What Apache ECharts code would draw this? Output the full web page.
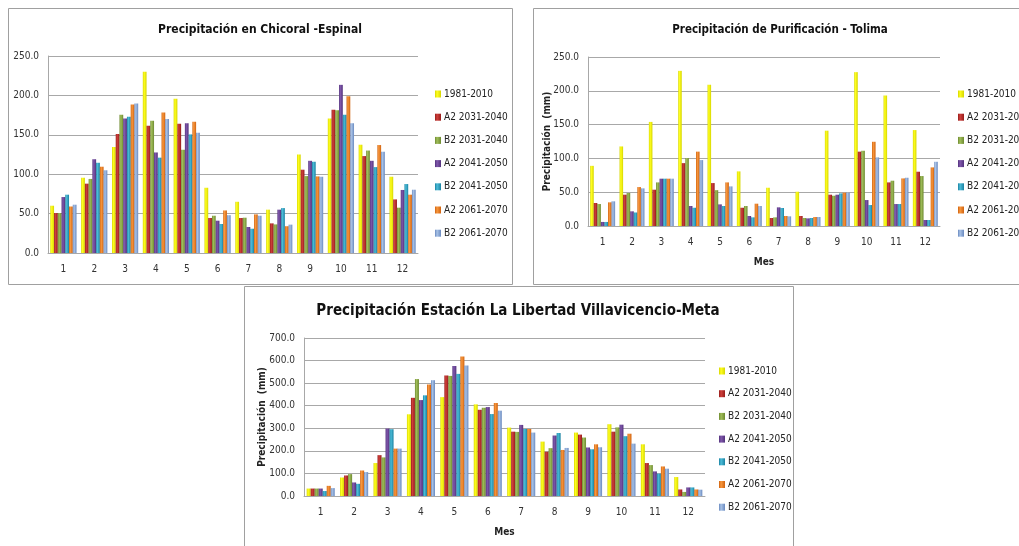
<!DOCTYPE html>
<html>
<head>
<meta charset="utf-8">
<script src="https://cdn.jsdelivr.net/npm/echarts@6/dist/echarts.min.js"></script>
<style>
  html, body { margin: 0; padding: 0; background: #fff; overflow: hidden; }
  #main { width: 1019px; height: 546px; }
</style>
</head>
<body>
<div id="main"></div>
<script>
// Months on the category axis
const months = ['1', '2', '3', '4', '5', '6', '7', '8', '9', '10', '11', '12'];
// Series names (period / scenario)
const seriesNames = ['1981-2010', 'A2 2031-2040', 'B2 2031-2040', 'A2 2041-2050', 'B2 2041-2050', 'A2 2061-2070', 'B2 2061-2070'];

// Precipitación en Chicoral - Espinal (mm)
const chicoral1981  = [60.0, 95.5, 134.5, 230.0, 195.7, 82.8, 65.0, 55.0, 125.0, 170.7, 137.4, 96.8];
const chicoralA2_31 = [50.7, 88.0, 151.0, 161.5, 164.0, 44.4, 44.4, 37.6, 105.7, 181.7, 123.0, 68.0];
const chicoralB2_31 = [50.7, 94.0, 175.4, 167.8, 131.0, 47.3, 44.8, 36.3, 97.6, 181.3, 130.0, 57.5];
const chicoralA2_41 = [71.0, 119.0, 170.7, 127.6, 164.8, 41.0, 33.0, 55.0, 117.0, 213.4, 117.0, 80.0];
const chicoralB2_41 = [74.0, 114.5, 172.9, 121.0, 150.5, 36.8, 30.8, 57.0, 115.8, 175.4, 109.0, 87.5];
const chicoralA2_61 = [59.0, 109.5, 188.5, 178.4, 166.5, 54.0, 49.0, 34.0, 97.2, 199.0, 137.0, 74.0];
const chicoralB2_61 = [61.3, 105.0, 189.8, 170.0, 152.6, 48.0, 47.3, 36.0, 96.8, 164.8, 128.5, 80.3];

// Precipitación de Purificación - Tolima (mm)
const purif1981  = [89.0, 117.7, 154.0, 229.5, 209.0, 80.8, 56.6, 50.7, 141.0, 227.6, 193.0, 141.9];
const purifA2_31 = [34.0, 46.3, 53.7, 93.0, 63.5, 27.0, 11.8, 14.8, 46.3, 110.0, 64.5, 80.3];
const purifB2_31 = [32.5, 48.8, 64.5, 100.5, 53.0, 29.6, 12.8, 11.8, 44.8, 111.3, 67.0, 73.9];
const purifA2_41 = [6.0, 21.7, 70.0, 29.6, 32.0, 14.8, 27.6, 11.3, 46.3, 38.4, 32.5, 8.9];
const purifB2_41 = [6.0, 20.0, 70.0, 27.0, 29.6, 12.8, 26.6, 11.8, 48.3, 31.0, 32.5, 8.9];
const purifA2_61 = [35.0, 57.6, 70.0, 110.0, 64.5, 33.0, 14.8, 13.3, 49.3, 124.6, 70.4, 86.7];
const purifB2_61 = [36.5, 55.7, 70.0, 97.5, 58.6, 29.6, 14.3, 13.3, 49.3, 101.5, 71.4, 95.0];

// Precipitación Estación La Libertad Villavicencio - Meta (mm)
const libertad1981  = [33, 82, 146, 362, 438, 406, 303, 241, 281, 318, 229, 84];
const libertadA2_31 = [33, 91, 181, 435, 534, 382, 285, 196, 272, 285, 146, 29];
const libertadB2_31 = [33, 97, 171, 518, 532, 391, 284, 212, 259, 304, 137, 18];
const libertadA2_41 = [33, 60, 299, 425, 576, 394, 315, 268, 215, 316, 109, 38];
const libertadB2_41 = [22, 54, 296, 446, 541, 363, 297, 279, 207, 265, 99, 38];
const libertadA2_61 = [45, 113, 210, 494, 618, 412, 297, 204, 229, 276, 131, 29];
const libertadB2_61 = [35, 106, 210, 513, 578, 378, 281, 213, 216, 232, 121, 28];

const chicoralData = [chicoral1981, chicoralA2_31, chicoralB2_31, chicoralA2_41, chicoralB2_41, chicoralA2_61, chicoralB2_61];
const purifData = [purif1981, purifA2_31, purifB2_31, purifA2_41, purifB2_41, purifA2_61, purifB2_61];
const libertadData = [libertad1981, libertadA2_31, libertadB2_31, libertadA2_41, libertadB2_41, libertadA2_61, libertadB2_61];

const FONT = "'DejaVu Sans Condensed', 'Liberation Sans', sans-serif";

// Base and highlight tones for the shaded bars
const palette = [
  ['#D6D600', '#FFFF20'],
  ['#961C1A', '#D0403C'],
  ['#6E8A30', '#A0BE5A'],
  ['#52317C', '#8058AC'],
  ['#1A82A2', '#4CBCD8'],
  ['#D0620F', '#F8983E'],
  ['#6A8AC0', '#A8C2E6']
];

function shade(i) {
  const [base, light] = palette[i];
  return new echarts.graphic.LinearGradient(0, 0, 1, 0, [
    { offset: 0, color: base },
    { offset: 0.35, color: light },
    { offset: 1, color: base }
  ]);
}

const chart = echarts.init(document.getElementById('main'), null, { renderer: 'canvas' });

const gridDefs = [
  { left: 48, top: 56, width: 370, height: 197 },
  { left: 588, top: 57, width: 352, height: 169 },
  { left: 304, top: 338, width: 401, height: 158 }
];

const axisLabelStyle = { color: '#333', fontFamily: FONT, fontSize: 10 };
const gridLineStyle = { color: '#A8A8A8', width: 1 };

function xAxisFor(gi, name) {
  return {
    type: 'category', gridIndex: gi, data: months,
    axisTick: { show: false },
    axisLine: { lineStyle: { color: '#A8A8A8' } },
    axisLabel: Object.assign({ margin: 11 }, axisLabelStyle),
    name: name || '', nameLocation: 'middle', nameGap: 31, nameMoveOverlap: false,
    nameTextStyle: { fontFamily: FONT, fontSize: 10, fontWeight: 'bold', color: '#222' }
  };
}
function yAxisFor(gi, max, interval, name, gap) {
  return {
    type: 'value', gridIndex: gi, min: 0, max: max, interval: interval,
    axisLine: { show: true, lineStyle: { color: '#A8A8A8' } },
    axisTick: { show: false },
    splitLine: { lineStyle: gridLineStyle },
    axisLabel: Object.assign({ margin: 9, formatter: v => v.toFixed(1) }, axisLabelStyle),
    name: name || '', nameLocation: 'middle', nameGap: gap || 0, nameRotate: 90, nameMoveOverlap: false,
    nameTextStyle: { fontFamily: FONT, fontSize: 10, fontWeight: 'bold', color: '#222' }
  };
}

const series = [];
[chicoralData, purifData, libertadData].forEach((set, gi) => {
  set.forEach((vals, i) => {
    series.push({
      type: 'bar', name: seriesNames[i], xAxisIndex: gi, yAxisIndex: gi,
      data: vals, barGap: '0%', barCategoryGap: gi === 2 ? '16%' : '15%',
      itemStyle: { color: shade(i) },
      emphasis: { disabled: true }
    });
  });
});

function legendAt(left, top, gap) {
  return {
    orient: 'vertical', left: left, top: top, itemGap: gap, padding: 0,
    itemWidth: 6, itemHeight: 7, icon: 'rect',
    data: seriesNames,
    textStyle: { fontFamily: FONT, fontSize: 10, color: '#222', lineHeight: 14, padding: [0, 0, 0, -2] }
  };
}

const boxStyle = { stroke: '#A0A0A0', fill: 'none', lineWidth: 1 };

chart.setOption({
  animation: false,
  backgroundColor: '#fff',
  title: [
    { text: 'Precipitación en Chicoral -Espinal', left: 260, top: 24, textAlign: 'center', padding: 0,
      textStyle: { fontFamily: FONT, fontSize: 12, fontWeight: 'bold', color: '#111' } },
    { text: 'Precipitación de Purificación - Tolima', left: 780, top: 24, textAlign: 'center', padding: 0,
      textStyle: { fontFamily: FONT, fontSize: 11.5, fontWeight: 'bold', color: '#111' } },
    { text: 'Precipitación Estación La Libertad Villavicencio-Meta', left: 518, top: 304, textAlign: 'center', padding: 0,
      textStyle: { fontFamily: FONT, fontSize: 15, fontWeight: 'bold', color: '#111' } }
  ],
  grid: gridDefs,
  xAxis: [xAxisFor(0), xAxisFor(1, 'Mes'), xAxisFor(2, 'Mes')],
  yAxis: [
    yAxisFor(0, 250, 50),
    yAxisFor(1, 250, 50, 'Precipitación  (mm)', 36),
    yAxisFor(2, 700, 100, 'Precipitación  (mm)', 37)
  ],
  legend: [legendAt(435, 87, 9.2), legendAt(958, 87, 9.2), legendAt(719, 364, 8.7)],
  graphic: [
    { type: 'rect', shape: { x: 8.5, y: 8.5, width: 504, height: 276 }, style: boxStyle, silent: true },
    { type: 'rect', shape: { x: 533.5, y: 8.5, width: 520, height: 276 }, style: boxStyle, silent: true },
    { type: 'rect', shape: { x: 244.5, y: 286.5, width: 549, height: 280 }, style: boxStyle, silent: true }
  ],
  series: series
});
</script>
</body>
</html>
